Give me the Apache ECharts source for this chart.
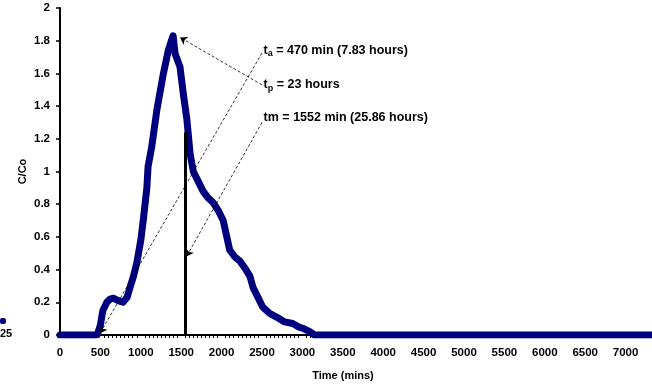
<!DOCTYPE html>
<html>
<head>
<meta charset="utf-8">
<script src="https://cdn.jsdelivr.net/npm/echarts@6/dist/echarts.min.js"></script>
<style>
  html, body { margin: 0; padding: 0; background: #fff; }
  #chart { width: 652px; height: 385px; }
</style>
</head>
<body>
<div id="chart"></div>
<script>
// breakthrough curve
const times = [0, 100, 200, 300, 400, 460, 500, 530, 580, 620, 660, 720, 780, 830, 866, 910, 950, 1000, 1030, 1075, 1090, 1135, 1200, 1280, 1340, 1385, 1400, 1425, 1485, 1525, 1570, 1610, 1650, 1700, 1770, 1830, 1895, 1960, 2020, 2100, 2160, 2230, 2300, 2350, 2390, 2450, 2510, 2600, 2680, 2780, 2880, 2950, 3010, 3090, 3150, 4000, 5000, 6000, 7000, 7500];
const conc = [0, 0, 0, 0, 0, 0, 0.06, 0.15, 0.20, 0.22, 0.225, 0.21, 0.20, 0.23, 0.29, 0.36, 0.44, 0.58, 0.70, 0.90, 1.03, 1.15, 1.38, 1.60, 1.74, 1.81, 1.83, 1.72, 1.64, 1.48, 1.32, 1.11, 1.0, 0.95, 0.88, 0.84, 0.81, 0.76, 0.70, 0.52, 0.48, 0.45, 0.40, 0.36, 0.29, 0.23, 0.17, 0.13, 0.11, 0.08, 0.07, 0.05, 0.04, 0.02, 0, 0, 0, 0, 0, 0];

// annotations
const tm = 1552;
const tmLineTop = 1.24;
const labelX = 2520;
const labels = [
  { y: 1.74, text: '{b|t}{s|a}{b| = 470 min (7.83 hours)}' },
  { y: 1.53, text: '{b|t}{s|p}{b| = 23 hours}' },
  { y: 1.33, text: '{b|tm = 1552 min (25.86 hours)}' }
];
// dashed pointer lines: [from, to]
const pointers = [
  [[2500, 1.725], [495, 0.01]],
  [[2500, 1.53], [1485, 1.82]],
  [[2500, 1.30], [1565, 0.48]]
];

const font = 'Liberation Sans';

const chart = echarts.init(document.getElementById('chart'));

const markData = pointers.map(p => [
  { coord: p[0], symbol: 'none' },
  { coord: p[1], symbol: 'arrow', symbolSize: 7 }
]);
markData.push([
  { coord: [tm, 0], symbol: 'none', lineStyle: { type: 'solid', width: 3, color: '#000' } },
  { coord: [tm, tmLineTop], symbol: 'none' }
]);

const option = {
  animation: false,
  backgroundColor: '#fff',
  grid: { left: 60, top: 8, bottom: 50, width: 606, outerBoundsMode: 'none', containLabel: false },
  xAxis: {
    type: 'value',
    min: 0,
    max: 7500,
    interval: 500,
    name: 'Time (mins)',
    nameLocation: 'middle',
    nameGap: 35,
    nameMoveOverlap: false,
    nameTextStyle: { fontFamily: font, fontWeight: 'bold', fontSize: 11, color: '#000', padding: [0, 40, 0, 0] },
    axisLine: { lineStyle: { color: '#000', width: 2 } },
    axisTick: { show: false },
    minorTick: { show: true, splitNumber: 10, length: 3, lineStyle: { color: '#000', width: 1 } },
    splitLine: { show: false },
    axisLabel: {
      fontFamily: font, fontWeight: 'bold', fontSize: 11.5, color: '#000', margin: 12, showMaxLabel: false,
      formatter: v => String(v)
    }
  },
  yAxis: {
    type: 'value',
    min: 0,
    max: 2,
    interval: 0.2,
    name: 'C/Co',
    nameLocation: 'middle',
    nameGap: 32,
    nameMoveOverlap: false,
    nameTextStyle: { fontFamily: font, fontWeight: 'bold', fontSize: 11, color: '#000' },
    axisLine: { show: true, lineStyle: { color: '#000', width: 2 } },
    axisTick: { show: true, length: 4, lineStyle: { color: '#000', width: 1.5 } },
    splitLine: { show: false },
    axisLabel: {
      fontFamily: font, fontWeight: 'bold', fontSize: 11.5, color: '#000', margin: 10,
      formatter: v => String(Math.round(v * 10) / 10)
    }
  },
  series: [
    {
      type: 'line',
      data: times.map((t, i) => [t, conc[i]]),
      showSymbol: false,
      lineStyle: { color: '#00007f', width: 7, cap: 'round', join: 'round' },
      z: 3,
      markLine: {
        silent: true,
        animation: false,
        label: { show: false },
        lineStyle: { type: [3, 2], width: 0.8, color: '#000' },
        data: markData
      }
    },
    {
      type: 'scatter',
      symbolSize: 0,
      silent: true,
      z: 5,
      data: labels.map(l => ({ value: [labelX, l.y], text: l.text })),
      label: {
        show: true,
        position: 'right',
        distance: 0,
        color: '#000',
        opacity: 1,
        textBorderWidth: 0,
        formatter: p => p.data.text,
        rich: {
          b: { fontFamily: font, fontWeight: 'bold', fontSize: 12.5, color: '#000' },
          s: { fontFamily: font, fontWeight: 'bold', fontSize: 9, color: '#000', padding: [7, 0, 0, 0] }
        }
      }
    }
  ],
  graphic: [
    { type: 'rect', left: 0, top: 318, shape: { width: 6, height: 6, r: 2 }, style: { fill: '#00007f' } },
    { type: 'text', left: 0, top: 328, style: { text: '25', font: 'bold 11px Liberation Sans', fill: '#000' } }
  ]
};

chart.setOption(option);
</script>
</body>
</html>
